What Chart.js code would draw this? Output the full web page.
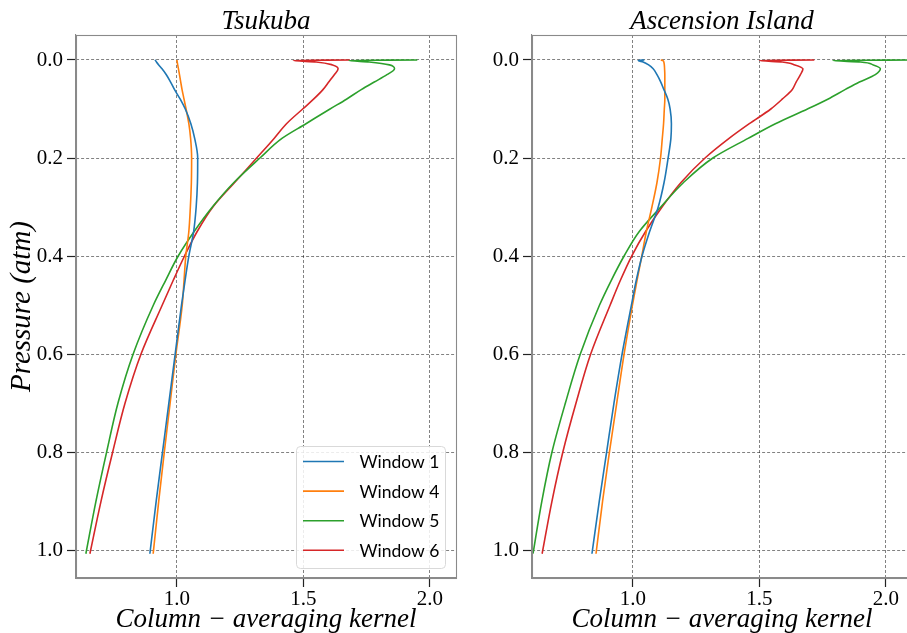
<!DOCTYPE html>
<html><head><meta charset="utf-8">
<script src="https://cdn.jsdelivr.net/npm/chart.js@4.4.1/dist/chart.umd.min.js"></script>
<style>
html,body{margin:0;padding:0;background:#fff;overflow:hidden;width:907px;height:633px;}
#wrap{position:relative;width:907px;height:633px;overflow:hidden;}
canvas{position:absolute;top:0;}
#c1{left:0px}
#c2{left:470px}
</style></head><body>
<div id="wrap"><canvas id="c1" width="470" height="633"></canvas><canvas id="c2" width="450" height="633"></canvas></div>
<script>
// ---- data ----
const pressureLevels = [0, 0.001, 0.004, 0.01, 0.018, 0.03, 0.045, 0.06, 0.08, 0.1, 0.13, 0.16, 0.2, 0.25, 0.3, 0.35, 0.4, 0.45, 0.5, 0.6, 0.7, 0.8, 0.9, 1.0075];
const seriesLabels = ['Window 1', 'Window 4', 'Window 5', 'Window 6'];
const seriesColors = ['#1f77b4', '#ff7f0e', '#2ca02c', '#d62728'];
const panelTitles = ['Tsukuba', 'Ascension Island'];

const tsukubaW1 = [0.913, 0.915, 0.919, 0.928, 0.941, 0.958, 0.975, 0.99, 1.013, 1.033, 1.055, 1.07, 1.082, 1.081, 1.076, 1.066, 1.047, 1.032, 1.018, 0.993, 0.968, 0.943, 0.918, 0.893];
const tsukubaW4 = [1.0, 1.0, 1.001, 1.003, 1.006, 1.01, 1.015, 1.02, 1.028, 1.036, 1.047, 1.054, 1.058, 1.057, 1.053, 1.047, 1.035, 1.028, 1.021, 0.996, 0.973, 0.95, 0.928, 0.906];
const tsukubaW5 = [1.95, 1.68, 1.76, 1.84, 1.86, 1.83, 1.78, 1.73, 1.67, 1.605, 1.51, 1.415, 1.328, 1.225, 1.14, 1.068, 1.005, 0.955, 0.907, 0.827, 0.767, 0.722, 0.68, 0.64];
const tsukubaW6 = [1.684, 1.46, 1.55, 1.615, 1.637, 1.622, 1.6, 1.578, 1.54, 1.497, 1.433, 1.384, 1.315, 1.228, 1.142, 1.08, 1.03, 0.985, 0.942, 0.858, 0.795, 0.746, 0.7, 0.656];

const ascensionW1 = [1.045, 1.021, 1.04, 1.062, 1.08, 1.095, 1.11, 1.122, 1.138, 1.147, 1.152, 1.15, 1.139, 1.123, 1.1, 1.066, 1.036, 1.013, 0.994, 0.957, 0.925, 0.896, 0.867, 0.838];
const ascensionW4 = [1.11, 1.118, 1.122, 1.124, 1.125, 1.126, 1.126, 1.126, 1.126, 1.124, 1.121, 1.116, 1.109, 1.095, 1.075, 1.053, 1.035, 1.016, 0.998, 0.965, 0.936, 0.907, 0.88, 0.854];
const ascensionW5 = [2.15, 1.79, 1.9, 1.95, 1.978, 1.958, 1.895, 1.84, 1.77, 1.69, 1.563, 1.455, 1.316, 1.2, 1.11, 1.025, 0.965, 0.914, 0.868, 0.792, 0.733, 0.68, 0.64, 0.605];
const ascensionW6 = [1.717, 1.5, 1.59, 1.64, 1.672, 1.662, 1.645, 1.63, 1.59, 1.545, 1.46, 1.38, 1.285, 1.19, 1.115, 1.05, 0.995, 0.95, 0.91, 0.833, 0.775, 0.723, 0.68, 0.641];

const xTickValues = [1.0, 1.5, 2.0];
const yTickValues = [0.0, 0.2, 0.4, 0.6, 0.8, 1.0];
const xRange = [0.601, 2.103];
const yRange = [-0.051, 1.057];

// ---- helpers ----
function toPoints(values) { return values.map((v, i) => ({ x: v, y: pressureLevels[i] })); }
function makeDatasets(seriesList) {
  return seriesList.map((vals, i) => ({
    label: seriesLabels[i], data: toPoints(vals),
    borderColor: seriesColors[i], backgroundColor: seriesColors[i],
    borderWidth: 1.6, pointRadius: 0, showLine: true,
    cubicInterpolationMode: 'monotone', fill: false
  }));
}

const framePlugin = {
  id: 'frame',
  afterDatasetsDraw(chart) {
    const { ctx, chartArea: a } = chart;
    ctx.save();
    ctx.strokeStyle = '#8a8a8a'; ctx.lineWidth = 1.1;
    ctx.strokeRect(Math.round(a.left) + 0.5, Math.round(a.top) + 0.5, Math.round(a.right - a.left), Math.round(a.bottom - a.top));
    ctx.restore();
  }
};

const insideLegend = {
  id: 'insideLegend',
  afterDraw(chart) {
    const { ctx, chartArea: a } = chart;
    const boxW = 149, boxH = 122;
    const x0 = a.right - 11 - boxW, y0 = a.bottom - 10 - boxH;
    ctx.save();
    ctx.beginPath();
    ctx.roundRect(x0 + 0.5, y0 + 0.5, boxW, boxH, 4);
    ctx.fillStyle = 'rgba(255,255,255,0.85)'; ctx.fill();
    ctx.strokeStyle = '#d9d9d9'; ctx.lineWidth = 1; ctx.stroke();
    ctx.font = '17.5px Lato'; ctx.textBaseline = 'middle'; ctx.textAlign = 'left'; ctx.fillStyle = '#000';
    chart.data.datasets.forEach((ds, i) => {
      const y = y0 + 15.5 + i * 29.6;
      ctx.strokeStyle = ds.borderColor; ctx.lineWidth = ds.borderWidth;
      ctx.beginPath(); ctx.moveTo(x0 + 7, y); ctx.lineTo(x0 + 48, y); ctx.stroke();
      ctx.fillText(ds.label, x0 + 63.5, y + 1);
    });
    ctx.restore();
  }
};

function makeOptions(title, yAxisWidth, showYTitle, padRight) {
  const gridCommon = {
    color: 'rgba(0,0,0,0.62)', lineWidth: 0.8, borderDash: [3, 2],
    drawTicks: true, tickLength: 9, tickColor: '#222', tickWidth: 1.2, tickBorderDash: []
  };
  const border = { display: true, color: '#8a8a8a', width: 1.1, dash: [3, 2] };
  return {
    responsive: false, animation: false, devicePixelRatio: 1,
    indexAxis: 'y',
    layout: { padding: { left: 0, right: padRight, top: 0, bottom: 0 } },
    plugins: {
      legend: { display: false },
      tooltip: { enabled: false },
      title: {
        display: true, text: title, fullSize: false, color: '#000',
        font: { family: 'Liberation Serif', style: 'italic', weight: 'normal', size: 27, lineHeight: 1 },
        padding: { top: 8, bottom: 0 }
      }
    },
    scales: {
      x: {
        type: 'linear', position: 'bottom', min: xRange[0], max: xRange[1],
        afterBuildTicks: s => { s.ticks = xTickValues.map(v => ({ value: v })); },
        afterFit: s => { s.height = 55; },
        ticks: { color: '#000', padding: 0, font: { family: 'Liberation Serif', size: 21 }, callback: v => Number(v).toFixed(1) },
        grid: gridCommon, border: border,
        title: { display: true, text: 'Column − averaging kernel', color: '#000',
          font: { family: 'Liberation Serif', style: 'italic', size: 27, lineHeight: 1 }, padding: { top: 0, bottom: 0 } }
      },
      y: {
        type: 'linear', position: 'left', reverse: true, min: yRange[0], max: yRange[1],
        afterBuildTicks: s => { s.ticks = yTickValues.map(v => ({ value: v })); },
        afterFit: s => { s.width = yAxisWidth; },
        ticks: { color: '#000', padding: 4, font: { family: 'Liberation Serif', size: 21 }, callback: v => Number(v).toFixed(1) },
        grid: gridCommon, border: border,
        title: { display: showYTitle, text: 'Pressure (atm)', color: '#000',
          font: { family: 'Liberation Serif', style: 'italic', size: 29, lineHeight: 1 }, padding: { top: 8, bottom: 0 } }
      }
    }
  };
}

new Chart(document.getElementById('c1'), {
  type: 'scatter',
  data: { datasets: makeDatasets([tsukubaW1, tsukubaW4, tsukubaW5, tsukubaW6]) },
  options: makeOptions(panelTitles[0], 76, true, 14),
  plugins: [framePlugin, insideLegend]
});

new Chart(document.getElementById('c2'), {
  type: 'scatter',
  data: { datasets: makeDatasets([ascensionW1, ascensionW4, ascensionW5, ascensionW6]) },
  options: makeOptions(panelTitles[1], 62, false, 8),
  plugins: [framePlugin]
});
</script>
</body></html>
